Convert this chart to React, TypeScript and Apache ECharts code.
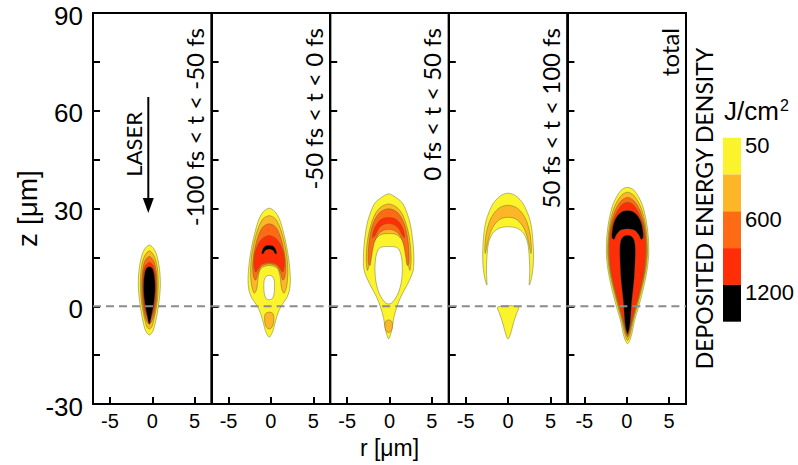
import React, { useEffect, useRef } from 'react';
import * as echarts from 'echarts';

// Time windows of the five panels
const panelTitles = ['-100 fs < t < -50 fs', '-50 fs < t < 0 fs', '0 fs < t < 50 fs', '50 fs < t < 100 fs', 'total'];

// Axis ranges and ticks
const rRange = [-7, 7];
const rTicks = [-5, 0, 5];
const zRange = [-30, 90];
const zTickStep = 15;
const zLabelStep = 30;
const zeroLine = [[-7, 0], [7, 0]];

// Deposited energy levels: 0 = none, 1..5 = colour bands of the scale
const levelColors = ['#ffffff', '#fbf42c', '#fcb627', '#ff6b14', '#ff2e06', '#000000'];
const colorbarLabels = ['50', '', '600', '', '1200'];

// Small radial offset of each pattern's symmetry axis [µm]
const panelAxisShift = [-0.35, -0.2, -0.1, 0, 0.1];

type Region = { level: number; half: number[][] };

// Contour outlines: right half [r, z] in µm, from the top on the axis
// round to the bottom (solid) or back up the inner edge (arches).
const regionsEarly: Region[] = [
  { level: 1, half: [[0, 18.8], [0.55, 17.6], [0.95, 15], [1.2, 11.5], [1.3, 8], [1.28, 5], [1.15, 1.5], [0.95, -2], [0.72, -5], [0.45, -7.5], [0, -8.8]] },
  { level: 2, half: [[0, 17], [0.55, 15.5], [0.9, 12.5], [1.05, 8], [1.0, 3], [0.8, -1], [0.55, -4], [0.3, -6.3], [0, -7]] },
  { level: 3, half: [[0, 15.3], [0.5, 14], [0.8, 11], [0.9, 7], [0.85, 2], [0.65, -1.5], [0.4, -4], [0, -5.5]] },
  { level: 4, half: [[0, 13.5], [0.5, 12.3], [0.75, 9.5], [0.8, 6], [0.72, 2], [0.55, -1], [0.3, -3], [0, -4.3]] },
  { level: 5, half: [[0, 12.2], [0.4, 11.5], [0.62, 9], [0.7, 6], [0.62, 2.5], [0.45, -0.5], [0.25, -3], [0.1, -5], [0, -5.5]] },
];

const regionsRising: Region[] = [
  { level: 1, half: [[0, 30.1], [0.7, 29], [1.25, 26.5], [1.65, 23], [2.05, 18.5], [2.35, 13.5], [2.5, 8.5], [2.4, 5], [2.05, 2.5], [1.45, 0.2], [1.05, -2], [0.7, -5], [0.45, -7.5], [0, -9.5]] },
  { level: 2, half: [[0, 27.8], [0.75, 26.8], [1.3, 24], [1.75, 20], [2.1, 15], [2.2, 10], [2.05, 6], [1.75, 4], [1.45, 5.5], [1.3, 9], [1.0, 11.5], [0.5, 12.3], [0, 12.5]] },
  { level: 3, half: [[0, 25.3], [0.75, 24.3], [1.3, 21.5], [1.75, 17], [1.95, 12.5], [1.85, 9], [1.6, 8], [1.35, 10], [1.0, 12], [0.5, 12.8], [0, 13]] },
  { level: 4, half: [[0, 21.7], [0.8, 20.8], [1.35, 18.8], [1.75, 15.5], [1.8, 12.5], [1.6, 10.5], [1.3, 11.5], [0.9, 12.8], [0.4, 13.3], [0, 13.4]] },
  { level: 5, half: [[0, 18.7], [0.45, 18.5], [0.75, 17.6], [0.9, 16.2], [0.7, 16.1], [0.45, 17.1], [0, 17.5]] },
  { level: 0, half: [[0, 9.5], [0.4, 9.1], [0.6, 7.8], [0.63, 5.5], [0.55, 3.5], [0.35, 2.3], [0, 2]] },
  { level: 2, half: [[0, -1.8], [0.45, -2.3], [0.55, -3.8], [0.45, -5.8], [0.2, -6.8], [0, -7]] },
];

const regionsPeak: Region[] = [
  { level: 1, half: [[0, 34.5], [0.9, 33.3], [1.7, 31.4], [2.45, 26.3], [2.8, 21.2], [2.97, 16], [2.9, 11], [2.25, 6.9], [1.42, 2.8], [1.0, 0], [0.62, -3.4], [0.35, -7.5], [0, -10]] },
  { level: 2, half: [[0, 31.4], [0.9, 30.5], [1.6, 28.3], [2.2, 24], [2.55, 19], [2.65, 14], [2.5, 11], [2.3, 13], [2.05, 17], [1.6, 20.3], [0.9, 22], [0, 22.3]] },
  { level: 3, half: [[0, 29.9], [0.9, 29.1], [1.55, 27], [2.05, 23.5], [2.35, 18.5], [2.4, 13.5], [2.2, 12.5], [2.0, 15.5], [1.7, 19.5], [1.2, 22.2], [0.6, 23.3], [0, 23.6]] },
  { level: 4, half: [[0, 27.2], [0.7, 26.9], [1.3, 25.6], [1.75, 23.3], [1.9, 21], [1.6, 21.8], [1.2, 23.8], [0.6, 25.1], [0, 25.4]] },
  { level: 0, half: [[0, 18.3], [0.8, 18.2], [1.25, 17.3], [1.55, 14.5], [1.62, 11], [1.5, 7.5], [1.2, 4.5], [0.75, 2.2], [0.3, 0.9], [0, 0.7]] },
  { level: 2, half: [[0, -4.2], [0.38, -4.7], [0.45, -6], [0.35, -7.4], [0, -8.1]] },
];

const regionsLate: Region[] = [
  { level: 1, half: [[0, 34.7], [0.9, 33.9], [1.8, 31.4], [2.6, 26.3], [2.9, 21.2], [3.0, 16], [2.95, 12], [2.75, 8.5], [2.5, 6.5], [2.55, 10.5], [2.5, 15], [2.3, 19.5], [1.8, 22.5], [1.0, 24], [0, 24.4]] },
  { level: 2, half: [[0, 31], [0.9, 30.4], [1.6, 28.8], [2.2, 26], [2.6, 22], [2.75, 18], [2.7, 16.2], [2.5, 18.5], [2.2, 21.8], [1.7, 24.7], [0.9, 26.8], [0, 27.3]] },
  { level: 1, half: [[0, 0.2], [0.6, 0.1], [1.25, -0.3], [1.05, -2], [0.85, -3.4], [0.6, -5.5], [0.4, -7.5], [0.15, -9.5], [0, -10]] },
];

const regionsTotal: Region[] = [
  { level: 1, half: [[0, 36.5], [0.8, 35.5], [1.7, 31.4], [2.2, 26.3], [2.45, 21.2], [2.5, 16], [2.3, 11], [1.9, 5.8], [1.4, 0.7], [0.83, -4.4], [0.4, -9.5], [0, -11.5]] },
  { level: 2, half: [[0, 35], [0.75, 34], [1.55, 30.5], [2.05, 26], [2.3, 21], [2.35, 16], [2.15, 11], [1.75, 6], [1.25, 1], [0.72, -4], [0.3, -8.8], [0, -10.5]] },
  { level: 3, half: [[0, 33.4], [0.7, 32.5], [1.45, 29.5], [1.95, 25.5], [2.2, 21], [2.25, 16], [2.05, 11], [1.65, 6], [1.15, 1], [0.62, -4], [0.22, -8.3], [0, -9.5]] },
  { level: 4, half: [[0, 31.9], [0.65, 31.2], [1.35, 28.5], [1.85, 25], [2.1, 21], [2.12, 16], [1.95, 11], [1.55, 6], [1.05, 1], [0.55, -4], [0.15, -8], [0, -9]] },
  { level: 5, half: [[0, 29.4], [0.6, 29.1], [1.2, 27.8], [1.6, 25.8], [1.8, 23.5], [1.85, 21], [1.6, 20.5], [1.3, 22], [0.9, 23.2], [0.4, 23.6], [0, 23.7]] },
  { level: 5, half: [[0, 21.8], [0.5, 21.4], [0.82, 20], [0.92, 17.5], [0.88, 13], [0.8, 9], [0.65, 5], [0.52, 2], [0.42, -1.5], [0.34, -4.5], [0.2, -7], [0, -8.5]] },
];

const panelRegions = [regionsEarly, regionsRising, regionsPeak, regionsLate, regionsTotal];

// Layout (px)
const plotLeft = 93;
const plotTop = 13;
const panelWidth = 118.6;
const plotHeight = 391;
const axisFont = 'Liberation Sans, Arial, sans-serif';
const labelFont = 'Lato, sans-serif';

function fullOutline(half: number[][], shift: number): number[][] {
  const right = half.map(([r, z]) => [shift + r, z]);
  const left = half.slice(1, -1).reverse().map(([r, z]) => [shift - r, z]);
  return right.concat(left);
}

function buildOption(): any {
  const grid: any[] = [];
  const xAxis: any[] = [];
  const yAxis: any[] = [];
  const series: any[] = [];
  const graphic: any[] = [];

  panelTitles.forEach((title, p) => {
    const left = plotLeft + p * panelWidth;
    grid.push({
      left, top: plotTop, width: panelWidth, height: plotHeight,
      show: true, borderColor: '#000', borderWidth: 2, outerBoundsMode: 'none',
    });
    xAxis.push({
      gridIndex: p, type: 'value', min: rRange[0], max: rRange[1],
      axisLine: { show: true, onZero: false, lineStyle: { color: '#000', width: 2 } },
      axisTick: { show: true, inside: true, length: 7, customValues: rTicks, lineStyle: { color: '#000', width: 2 } },
      axisLabel: { customValues: rTicks, fontSize: 20, fontFamily: axisFont, color: '#000', margin: 7 },
      splitLine: { show: false },
      ...(p === 2 ? {
        name: 'r [μm]', nameLocation: 'middle', nameGap: 32,
        nameTextStyle: { fontSize: 23, fontFamily: axisFont, color: '#000' },
      } : {}),
    });
    yAxis.push({
      gridIndex: p, type: 'value', min: zRange[0], max: zRange[1], interval: zTickStep,
      axisLine: { show: true, onZero: false, lineStyle: { color: '#000', width: 2 } },
      axisTick: { show: true, inside: true, length: 7, lineStyle: { color: '#000', width: 2 } },
      axisLabel: {
        show: p === 0,
        formatter: (v: number) => (v % zLabelStep === 0 ? `{v|${v}}` : ''),
        rich: { v: { fontSize: 26, lineHeight: 24, fontFamily: axisFont, color: '#000', padding: [5, 0, 0, 0] } },
        color: '#000', margin: 10,
      },
      splitLine: { show: false },
      ...(p === 0 ? {
        name: 'z [μm]', nameLocation: 'middle', nameGap: 50,
        nameTextStyle: { fontSize: 28, fontFamily: axisFont, color: '#000' },
      } : {}),
    });

    const regions = panelRegions[p];
    const shift = panelAxisShift[p];
    series.push({
      type: 'custom', xAxisIndex: p, yAxisIndex: p, clip: true, silent: true, z: 2,
      data: regions.map((_, i) => [0, i]),
      renderItem: (params: any, api: any) => {
        const reg = regions[params.dataIndex];
        const points = fullOutline(reg.half, shift).map((pt) => api.coord(pt));
        return {
          type: 'polygon', z2: params.dataIndex,
          shape: { points, smooth: 0.3 },
          style: { fill: levelColors[reg.level], stroke: 'rgba(95,95,45,0.55)', lineWidth: 0.8 },
        };
      },
    });
    series.push({
      type: 'line', xAxisIndex: p, yAxisIndex: p, data: zeroLine, symbol: 'none', silent: true, z: 5,
      lineStyle: { color: '#8c8c8c', width: 2, type: [8, 5] },
    });

    graphic.push({
      type: 'text', x: left + panelWidth - 17, y: 28, rotation: Math.PI / 2,
      style: { text: title, fontSize: 24, fontFamily: labelFont, fill: '#000', align: 'right', verticalAlign: 'middle' },
    });
  });

  // Laser direction
  graphic.push({
    type: 'text', x: 133.5, y: 112, rotation: Math.PI / 2,
    style: { text: 'LASER', fontSize: 22, fontFamily: labelFont, fill: '#000', align: 'right', verticalAlign: 'middle' },
  });
  graphic.push({ type: 'line', shape: { x1: 148.3, y1: 97, x2: 148.3, y2: 200 }, style: { stroke: '#000', lineWidth: 2 } });
  graphic.push({ type: 'polygon', shape: { points: [[142.8, 198], [153.8, 198], [148.3, 213]] }, style: { fill: '#000' } });

  // Colour scale
  const barX = 723;
  const barTop = 137.7;
  const barW = 18;
  const barH = 36.8;
  colorbarLabels.forEach((label, i) => {
    graphic.push({ type: 'rect', shape: { x: barX, y: barTop + i * barH, width: barW, height: barH }, style: { fill: levelColors[i + 1] } });
    if (label) {
      graphic.push({
        type: 'text', x: barX + 22, y: barTop + i * barH + 8,
        style: { text: label, fontSize: 22, fontFamily: axisFont, fill: '#000', align: 'left', verticalAlign: 'middle' },
      });
    }
  });
  graphic.push({
    type: 'text', x: 724, y: 111,
    style: {
      text: '{a|J/cm}{b|2}', align: 'left', verticalAlign: 'middle',
      rich: {
        a: { fontSize: 26, lineHeight: 30, fontFamily: axisFont, fill: '#000' },
        b: { fontSize: 16, lineHeight: 16, fontFamily: axisFont, fill: '#000', verticalAlign: 'top', padding: [1, 0, 0, 1] },
      },
    },
  });
  graphic.push({
    type: 'text', x: 704, y: 208.5, rotation: Math.PI / 2,
    style: { text: 'DEPOSITED ENERGY DENSITY', fontSize: 23, fontFamily: labelFont, fill: '#000', align: 'center', verticalAlign: 'middle' },
  });

  return { animation: false, backgroundColor: '#fff', grid, xAxis, yAxis, series, graphic };
}

export default function App() {
  const ref = useRef<HTMLDivElement>(null);
  useEffect(() => {
    if (!ref.current) return;
    const chart = echarts.init(ref.current, undefined, { renderer: 'svg' });
    chart.setOption(buildOption());
    return () => chart.dispose();
  }, []);
  return <div ref={ref} style={{ position: 'absolute', left: 0, top: 0, width: 798, height: 465 }} />;
}
